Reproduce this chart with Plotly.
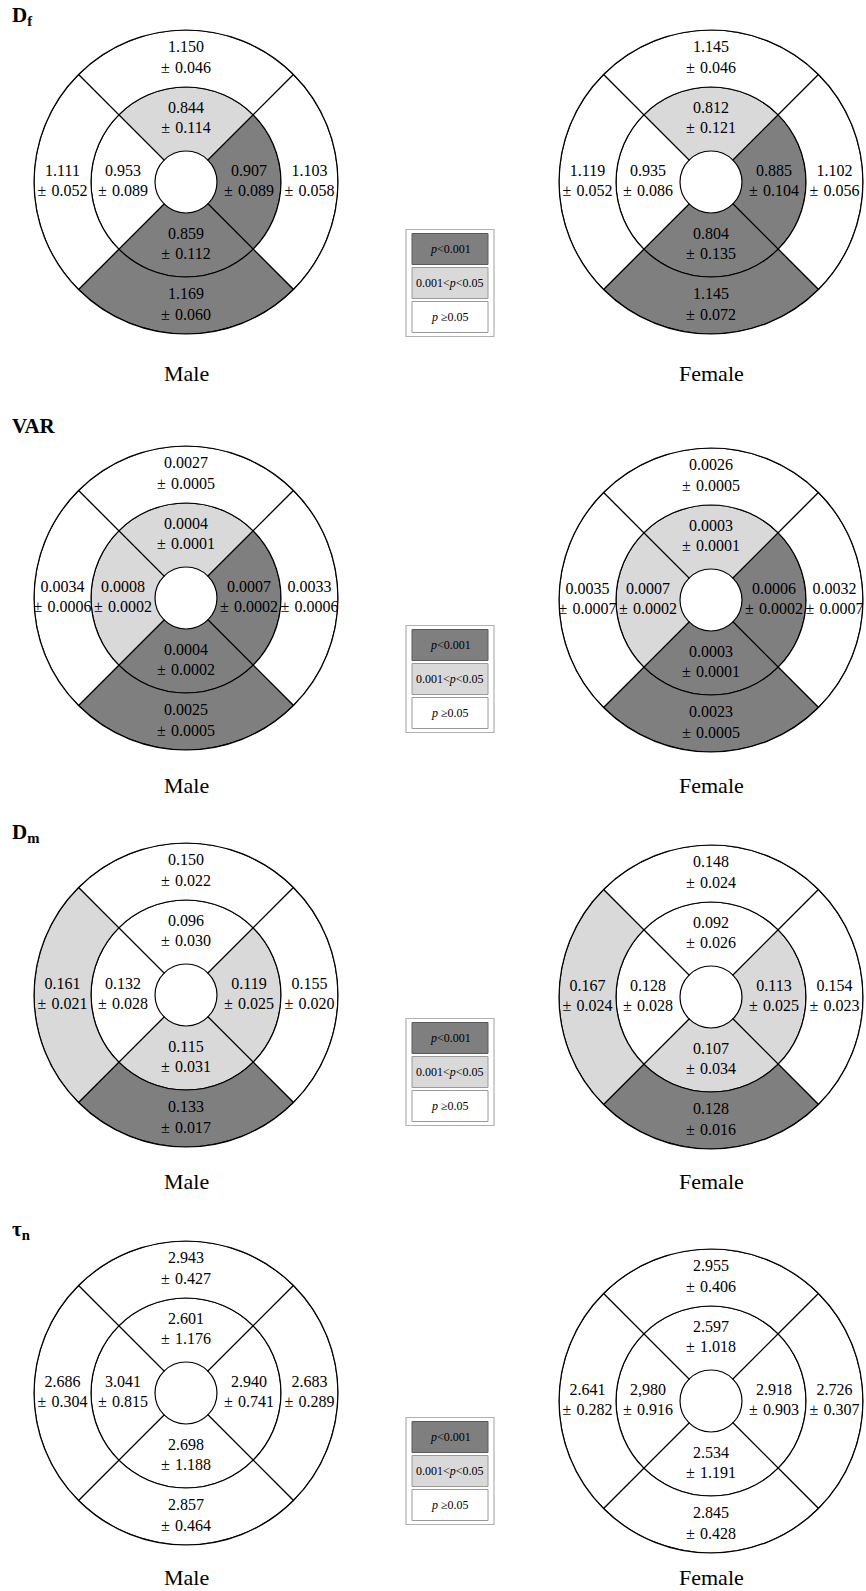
import plotly.graph_objects as go

W, H = 866, 1591

# ---------------- data ----------------
# sector order: top, right, bottom, left
sector_theta = [90, 0, 270, 180]
groups = ["Male", "Female"]
metric_titles = ["D<sub>f</sub>", "VAR", "D<sub>m</sub>", "τ<sub>n</sub>"]

# significance codes: 2 = p<0.001, 1 = 0.001<p<0.05, 0 = p>=0.05
legend_labels = ["<i>p</i>&lt;0.001", "0.001&lt;<i>p</i>&lt;0.05", "<i>p</i> ≥0.05"]
legend_codes = [2, 1, 0]

# D_f
df_male_inner_mean = ["0.844", "0.907", "0.859", "0.953"]
df_male_inner_sd = ["0.114", "0.089", "0.112", "0.089"]
df_male_inner_sig = [1, 2, 2, 0]
df_male_outer_mean = ["1.150", "1.103", "1.169", "1.111"]
df_male_outer_sd = ["0.046", "0.058", "0.060", "0.052"]
df_male_outer_sig = [0, 0, 2, 0]
df_female_inner_mean = ["0.812", "0.885", "0.804", "0.935"]
df_female_inner_sd = ["0.121", "0.104", "0.135", "0.086"]
df_female_inner_sig = [1, 2, 2, 0]
df_female_outer_mean = ["1.145", "1.102", "1.145", "1.119"]
df_female_outer_sd = ["0.046", "0.056", "0.072", "0.052"]
df_female_outer_sig = [0, 0, 2, 0]

# VAR
var_male_inner_mean = ["0.0004", "0.0007", "0.0004", "0.0008"]
var_male_inner_sd = ["0.0001", "0.0002", "0.0002", "0.0002"]
var_male_inner_sig = [1, 2, 2, 1]
var_male_outer_mean = ["0.0027", "0.0033", "0.0025", "0.0034"]
var_male_outer_sd = ["0.0005", "0.0006", "0.0005", "0.0006"]
var_male_outer_sig = [0, 0, 2, 0]
var_female_inner_mean = ["0.0003", "0.0006", "0.0003", "0.0007"]
var_female_inner_sd = ["0.0001", "0.0002", "0.0001", "0.0002"]
var_female_inner_sig = [1, 2, 2, 1]
var_female_outer_mean = ["0.0026", "0.0032", "0.0023", "0.0035"]
var_female_outer_sd = ["0.0005", "0.0007", "0.0005", "0.0007"]
var_female_outer_sig = [0, 0, 2, 0]

# D_m
dm_male_inner_mean = ["0.096", "0.119", "0.115", "0.132"]
dm_male_inner_sd = ["0.030", "0.025", "0.031", "0.028"]
dm_male_inner_sig = [0, 1, 1, 0]
dm_male_outer_mean = ["0.150", "0.155", "0.133", "0.161"]
dm_male_outer_sd = ["0.022", "0.020", "0.017", "0.021"]
dm_male_outer_sig = [0, 0, 2, 1]
dm_female_inner_mean = ["0.092", "0.113", "0.107", "0.128"]
dm_female_inner_sd = ["0.026", "0.025", "0.034", "0.028"]
dm_female_inner_sig = [0, 1, 1, 0]
dm_female_outer_mean = ["0.148", "0.154", "0.128", "0.167"]
dm_female_outer_sd = ["0.024", "0.023", "0.016", "0.024"]
dm_female_outer_sig = [0, 0, 2, 1]

# tau_n
tn_male_inner_mean = ["2.601", "2.940", "2.698", "3.041"]
tn_male_inner_sd = ["1.176", "0.741", "1.188", "0.815"]
tn_male_inner_sig = [0, 0, 0, 0]
tn_male_outer_mean = ["2.943", "2.683", "2.857", "2.686"]
tn_male_outer_sd = ["0.427", "0.289", "0.464", "0.304"]
tn_male_outer_sig = [0, 0, 0, 0]
tn_female_inner_mean = ["2.597", "2.918", "2.534", "2,980"]
tn_female_inner_sd = ["1.018", "0.903", "1.191", "0.916"]
tn_female_inner_sig = [0, 0, 0, 0]
tn_female_outer_mean = ["2.955", "2.726", "2.845", "2.641"]
tn_female_outer_sd = ["0.406", "0.307", "0.428", "0.282"]
tn_female_outer_sig = [0, 0, 0, 0]

panels = [
    [(df_male_inner_mean, df_male_inner_sd, df_male_inner_sig, df_male_outer_mean, df_male_outer_sd, df_male_outer_sig),
     (df_female_inner_mean, df_female_inner_sd, df_female_inner_sig, df_female_outer_mean, df_female_outer_sd, df_female_outer_sig)],
    [(var_male_inner_mean, var_male_inner_sd, var_male_inner_sig, var_male_outer_mean, var_male_outer_sd, var_male_outer_sig),
     (var_female_inner_mean, var_female_inner_sd, var_female_inner_sig, var_female_outer_mean, var_female_outer_sd, var_female_outer_sig)],
    [(dm_male_inner_mean, dm_male_inner_sd, dm_male_inner_sig, dm_male_outer_mean, dm_male_outer_sd, dm_male_outer_sig),
     (dm_female_inner_mean, dm_female_inner_sd, dm_female_inner_sig, dm_female_outer_mean, dm_female_outer_sd, dm_female_outer_sig)],
    [(tn_male_inner_mean, tn_male_inner_sd, tn_male_inner_sig, tn_male_outer_mean, tn_male_outer_sd, tn_male_outer_sig),
     (tn_female_inner_mean, tn_female_inner_sd, tn_female_inner_sig, tn_female_outer_mean, tn_female_outer_sd, tn_female_outer_sig)],
]

# ---------------- layout constants ----------------
SIG_COLORS = {2: "#7f7f7f", 1: "#d9d9d9", 0: "#ffffff"}
LEG_BORDER = {2: "#5a5a5a", 1: "#9a9a9a", 0: "#9a9a9a"}
R_IN, R_MID, R_OUT = 31, 95, 152
FONT = "Liberation Serif"
PM_SPACE = "\u2004"

col_cx = [186, 711]
row_cy = [[182, 182], [598, 600], [995, 997], [1393, 1401]]
title_y = [16, 426, 833, 1230]
label_y = [374, 785, 1181, 1577]
legend_cy = [283, 679, 1072, 1471]
LEG_BOX_H, LEG_GAP, LEG_PAD = 31, 3, 4


def px(x):
    return x / W


def py(y):
    return 1 - y / H


fig = go.Figure()
layout_polars = {}
annotations = []
shapes = []

k = 0
for ri, row in enumerate(panels):
    for ci, (im, isd, isig, om, osd, osig) in enumerate(row):
        k += 1
        pid = "polar" if k == 1 else f"polar{k}"
        cx, cy = col_cx[ci], row_cy[ri][ci]
        layout_polars[pid] = dict(
            domain=dict(x=[px(cx - R_OUT), px(cx + R_OUT)], y=[py(cy + R_OUT), py(cy - R_OUT)]),
            bgcolor="rgba(0,0,0,0)",
            barmode="overlay",
            bargap=0,
            hole=0,
            radialaxis=dict(visible=False, range=[0, R_OUT]),
            angularaxis=dict(showline=True, linecolor="black", linewidth=1.2, showgrid=False,
                             showticklabels=False, ticks="", rotation=0, direction="counterclockwise"),
        )
        for mean, sd, sig, base, top in ((im, isd, isig, R_IN, R_MID), (om, osd, osig, R_MID, R_OUT)):
            fig.add_trace(go.Barpolar(
                r=[top - base] * 4, base=[base] * 4, theta=sector_theta, width=[90] * 4,
                marker=dict(color=[SIG_COLORS[s] for s in sig], line=dict(color="black", width=1.2)),
                subplot=pid, showlegend=False, hoverinfo="skip",
            ))
            fig.add_trace(go.Scatterpolar(
                r=[(base + top) / 2] * 4, theta=sector_theta, mode="text",
                text=[f"{m}<br>±{PM_SPACE}{s}" for m, s in zip(mean, sd)],
                textfont=dict(family=FONT, size=16, color="black"),
                subplot=pid, showlegend=False, hoverinfo="skip", cliponaxis=False,
            ))
        annotations.append(dict(
            x=px(cx), y=py(label_y[ri]), xref="paper", yref="paper", text=groups[ci],
            showarrow=False, font=dict(family=FONT, size=22, color="black"),
            xanchor="center", yanchor="middle",
        ))
    annotations.append(dict(
        x=px(10), y=py(title_y[ri]), xref="paper", yref="paper", text=f"<b>{metric_titles[ri]}</b>",
        showarrow=False, font=dict(family=FONT, size=21, color="black"),
        xanchor="left", yanchor="middle",
    ))
    # legend box
    ly = legend_cy[ri]
    total = 3 * LEG_BOX_H + 2 * LEG_GAP
    shapes.append(dict(type="rect", xref="paper", yref="paper",
                       x0=px(406), x1=px(494), y0=py(ly + total / 2 + LEG_PAD), y1=py(ly - total / 2 - LEG_PAD),
                       line=dict(color="#b0b0b0", width=1.2), fillcolor="white"))
    for i, (lab, code) in enumerate(zip(legend_labels, legend_codes)):
        top = ly - total / 2 + i * (LEG_BOX_H + LEG_GAP)
        shapes.append(dict(type="rect", xref="paper", yref="paper",
                           x0=px(412), x1=px(488), y0=py(top + LEG_BOX_H), y1=py(top),
                           line=dict(color=LEG_BORDER[code], width=1), fillcolor=SIG_COLORS[code]))
        annotations.append(dict(
            x=px(450), y=py(top + LEG_BOX_H / 2), xref="paper", yref="paper", text=lab,
            showarrow=False, font=dict(family=FONT, size=12, color="black"),
            xanchor="center", yanchor="middle",
        ))

fig.update_layout(
    width=W, height=H, margin=dict(l=0, r=0, t=0, b=0),
    paper_bgcolor="white", plot_bgcolor="white",
    showlegend=False, annotations=annotations, shapes=shapes,
    **layout_polars,
)

fig.write_html("out.html", config={"displayModeBar": False},
               post_script="document.body.style.margin='0px';document.body.style.overflow='hidden';")
